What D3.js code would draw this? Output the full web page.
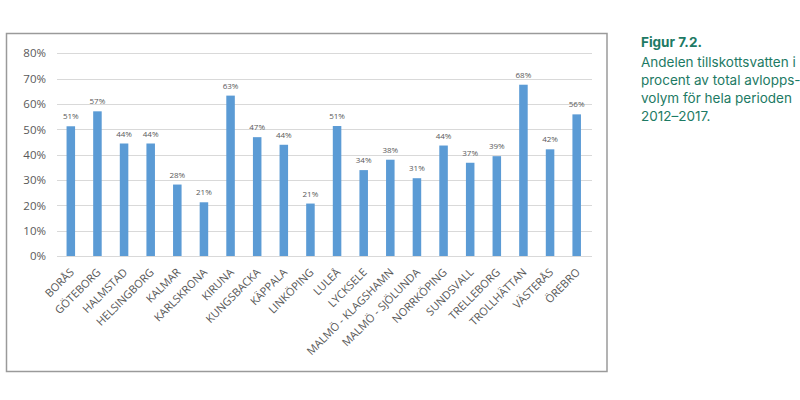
<!DOCTYPE html>
<html><head><meta charset="utf-8">
<script src="https://cdn.jsdelivr.net/npm/d3@7"></script>
<style>
body{margin:0;background:#fff;}
svg{display:block;}
</style></head>
<body>
<svg id="c" width="800" height="400"></svg>
<script>
const categories = ["BORÅS","GÖTEBORG","HALMSTAD","HELSINGBORG","KALMAR","KARLSKRONA","KIRUNA","KUNGSBACKA","KÄPPALA","LINKÖPING","LULEÅ","LYCKSELE","MALMÖ - KLAGSHAMN","MALMÖ - SJÖLUNDA","NORRKÖPING","SUNDSVALL","TRELLEBORG","TROLLHÄTTAN","VÄSTERÅS","ÖREBRO"];
const values = [51.2,57.1,44.4,44.4,28.2,21.2,63.3,46.9,43.9,20.7,51.3,33.9,38.0,30.7,43.6,36.8,39.4,67.6,42.1,55.9];
const yTicks = [0,10,20,30,40,50,60,70,80];
const captionTitle = "Figur 7.2.";
const captionLines = ["Andelen tillskottsvatten i","procent av total avlopps-","volym för hela perioden","2012–2017."];

const svg = d3.select("#c");
// frame
svg.append("rect").attr("x",6.5).attr("y",33.5).attr("width",600.5).attr("height",338)
  .attr("fill","#fff").attr("stroke","#9a9a9a").attr("stroke-width",1.5);

const x = d3.scaleBand().domain(categories).range([57.5,590]).paddingInner(0.68).paddingOuter(0.34);
const y = d3.scaleLinear().domain([0,80]).range([256,53.3]);

// gridlines
svg.append("g").selectAll("line").data(yTicks).join("line")
  .attr("x1",57).attr("x2",592).attr("y1",d=>Math.round(y(d))+0.5).attr("y2",d=>Math.round(y(d))+0.5)
  .attr("stroke","#d9d9d9").attr("stroke-width",1);

// y axis labels
const yAxis = d3.axisLeft(y).tickValues(yTicks).tickFormat(d=>d+"%").tickSize(0).tickPadding(0);
const ya = svg.append("g").attr("transform","translate(46,0)").call(yAxis);
ya.select(".domain").remove();
ya.selectAll("text").attr("font-family","'Open Sans', sans-serif").attr("font-size","11.5px").attr("fill","#595959");

// bars
svg.append("g").selectAll("rect").data(values).join("rect")
  .attr("x",(d,i)=>x(categories[i])).attr("width",x.bandwidth())
  .attr("y",d=>y(d)).attr("height",d=>y(0)-y(d)).attr("fill","#5b9bd5");

// value labels
svg.append("g").selectAll("text").data(values).join("text")
  .attr("x",(d,i)=>x(categories[i])+x.bandwidth()/2).attr("y",d=>y(d)-7)
  .attr("text-anchor","middle").attr("font-family","'Open Sans', sans-serif")
  .attr("font-size","8px").attr("fill","#595959").text(d=>Math.round(d)+"%");

// x axis labels
const xAxis = d3.axisBottom(x).tickSize(0).tickPadding(0);
const xa = svg.append("g").attr("transform","translate(0,256)").call(xAxis);
xa.select(".domain").remove();
xa.selectAll("text")
  .attr("font-family","'Open Sans', sans-serif").attr("font-size","11px").attr("fill","#595959")
  .attr("text-anchor","end").attr("dy",null).attr("y",null)
  .attr("transform","translate(4,17) rotate(-45)");

// caption
svg.append("text").attr("x",641).attr("y",47).attr("font-family","Inter, sans-serif")
  .attr("font-weight","bold").attr("font-size","13.5px").attr("fill","#1d7a64").text(captionTitle);
svg.append("g").selectAll("text").data(captionLines).join("text")
  .attr("x",641).attr("y",(d,i)=>67+i*18).attr("font-family","Inter, sans-serif")
  .attr("font-size","13.5px").attr("fill","#1d7a64").text(d=>d);
</script>
</body></html>
